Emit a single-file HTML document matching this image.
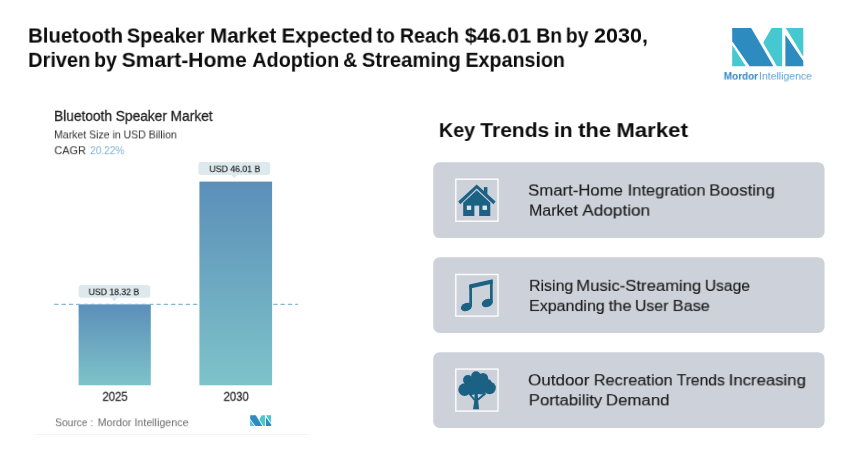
<!DOCTYPE html>
<html>
<head>
<meta charset="utf-8">
<style>
html,body{margin:0;padding:0;}
body{width:860px;height:462px;background:#fff;position:relative;overflow:hidden;font-family:"Liberation Sans",sans-serif;color:#111;}
.abs{position:absolute;}
.t{position:absolute;left:0;top:0;white-space:nowrap;line-height:1;transform-origin:0 0;margin:0;padding:0;will-change:transform;}
</style>
</head>
<body>
<svg class="abs" style="left:0;top:300px" width="320" height="10" viewBox="0 300 320 10"><line x1="54.2" y1="304.4" x2="298" y2="304.4" stroke="#86b9d6" stroke-width="1.1" stroke-dasharray="4.4 2.9"/></svg>
<!-- chart bars -->
<svg class="abs" style="left:0;top:170px" width="320" height="230" viewBox="0 170 320 230">
<defs><linearGradient id="bg" x1="0" y1="0" x2="0" y2="1"><stop offset="0" stop-color="#5b8fb9"/><stop offset="1" stop-color="#7ec3c9"/></linearGradient></defs>
<rect x="78.6" y="304.4" width="72.2" height="80.9" fill="url(#bg)"/>
<rect x="199.4" y="181.6" width="72.7" height="203.7" fill="url(#bg)"/>
<line x1="78.6" y1="304.6" x2="150.8" y2="304.6" stroke="#9cc4dc" stroke-opacity="0.7" stroke-width="1" stroke-dasharray="4.4 2.9" stroke-dashoffset="2.5"/>
</svg>

<!-- cards -->

<svg class="abs" style="left:0;top:0" width="860" height="462" viewBox="0 0 860 462">
<g fill="#cdd2da">
<rect x="433.2" y="162.3" width="391.4" height="75.8" rx="6.5"/>
<rect x="433.2" y="257.2" width="391.4" height="75.7" rx="6.5"/>
<rect x="433.2" y="352.2" width="391.4" height="75.7" rx="6.5"/>
</g>
<g fill="#dde9ec">
<rect x="78.6" y="285" width="71.6" height="12.8" rx="3"/>
<rect x="198.4" y="162" width="71.8" height="13" rx="3"/>
</g>
<!-- main logo -->
<g transform="translate(732.2,27.9)">
<polygon points="0,0 19,0 41.2,38.3 17.4,38.3 0,13.3" fill="#2e8bc0"/>
<polygon points="0,17.1 0,38.3 13.6,38.3" fill="#45c8cf"/>
<polygon points="39.4,0 50,0 50,38.3 44.7,38.3 31,14.8" fill="#45c8cf"/>
<polygon points="53.2,6.8 71.1,33 71.1,38.3 53.2,38.3" fill="#2e8bc0"/>
<polygon points="53.6,0 71.1,0 71.1,28.8" fill="#45c8cf"/>
</g>
<!-- small logo -->
<g transform="translate(250.2,415.3) scale(0.2944,0.279)">
<polygon points="0,0 19,0 41.2,38.3 17.4,38.3 0,13.3" fill="#2e8bc0"/>
<polygon points="0,17.1 0,38.3 13.6,38.3" fill="#45c8cf"/>
<polygon points="39.4,0 50,0 50,38.3 44.7,38.3 31,14.8" fill="#45c8cf"/>
<polygon points="53.2,6.8 71.1,33 71.1,38.3 53.2,38.3" fill="#2e8bc0"/>
<polygon points="53.6,0 71.1,0 71.1,28.8" fill="#45c8cf"/>
</g>
<!-- pill pointers -->
<polygon points="111.2,297.6 117.2,297.6 114.2,301.4" fill="#dde9ec"/>
<polygon points="231.2,174.8 237.2,174.8 234.2,178.3" fill="#dde9ec"/>
<!-- dashed line -->

<!-- bottom faint line -->
<rect x="35" y="434" width="274" height="1" fill="#f5f5f5"/>

<g fill="none" stroke="#fdfdfe" stroke-width="1.4">
<rect x="455.8" y="179.2" width="42.2" height="42"/>
<rect x="455.8" y="274.5" width="42.2" height="41.6"/>
<rect x="455.8" y="369.1" width="42.2" height="42"/>
</g>
<!-- house -->
<g fill="#1b6183">
<polygon points="458.2,201.6 476.7,184.4 495.6,201.6 493.4,204.2 476.7,188.6 460.4,204.2"/>
<rect x="483.9" y="187.1" width="3.5" height="7"/>
<polygon points="463.2,202.8 476.7,190.2 490.3,202.8 490.3,216.1 463.2,216.1"/>
</g>
<rect x="466.8" y="205.6" width="4.4" height="4.3" fill="#dfe4ea"/>
<rect x="482.5" y="205.6" width="4.5" height="4.3" fill="#dfe4ea"/>
<rect x="474.4" y="205.6" width="4.8" height="10.6" fill="#d3d8df"/>

<!-- music -->
<g fill="#1b6183">
<rect x="469.3" y="285" width="2.7" height="21.5"/>
<rect x="490" y="280" width="2.7" height="22.5"/>
<polygon points="469.3,284.5 492.7,279.2 492.7,283.4 469.3,288.7"/>
<ellipse cx="466.4" cy="307" rx="5.7" ry="3.9" transform="rotate(-20 466.4 307)"/>
<ellipse cx="487.3" cy="303" rx="5.7" ry="3.9" transform="rotate(-20 487.3 303)"/>
</g>

<!-- tree -->
<g fill="#1b6183">
<circle cx="476" cy="376.1" r="4.9"/>
<circle cx="467.9" cy="379.9" r="4.9"/>
<circle cx="483" cy="378.2" r="5.2"/>
<circle cx="464.6" cy="389.6" r="6.3"/>
<circle cx="489.6" cy="388" r="6.2"/>
<circle cx="476" cy="385.8" r="8.7"/>
<circle cx="471.6" cy="391" r="4"/>
<circle cx="481.4" cy="390.5" r="4"/>
<circle cx="487.6" cy="383.3" r="4"/>
<polygon points="474.6,393.9 477.7,393.9 478.4,403.1 479.1,409.2 473,409.2 474,403.1"/>
</g>
<g stroke="#1b6183" fill="none">
<line x1="474.6" y1="400" x2="469.3" y2="393.6" stroke-width="1.8"/>
<line x1="477.8" y1="399.8" x2="485.6" y2="393.2" stroke-width="2.1"/>
</g>
</svg>

<style>.t1{font-size:21.5px;font-weight:bold;color:#0c0c0c;}</style>
<div class="t t1" style="transform:translate(28.16px,26.62px) rotate(0.02deg) scale(0.9449,0.9402)">Bluetooth</div>
<div class="t t1" style="transform:translate(126.87px,26.62px) rotate(0.02deg) scale(0.9277,0.9402)">Speaker</div>
<div class="t t1" style="transform:translate(210.15px,26.62px) rotate(0.02deg) scale(0.9529,0.9402)">Market</div>
<div class="t t1" style="transform:translate(281.55px,26.62px) rotate(0.02deg) scale(0.9548,0.9402)">Expected</div>
<div class="t t1" style="transform:translate(376.50px,26.62px) rotate(0.02deg) scale(0.9000,0.9402)">to</div>
<div class="t t1" style="transform:translate(399.89px,26.62px) rotate(0.02deg) scale(0.9143,0.9402)">Reach</div>
<div class="t t1" style="transform:translate(464.80px,26.62px) rotate(0.02deg) scale(1.0077,0.9402)">$46.01</div>
<div class="t t1" style="transform:translate(536.30px,26.62px) rotate(0.02deg) scale(0.9000,0.9402)">Bn</div>
<div class="t t1" style="transform:translate(565.80px,26.62px) rotate(0.02deg) scale(0.9000,0.9402)">by</div>
<div class="t t1" style="transform:translate(594.00px,26.62px) rotate(0.02deg) scale(1.0019,0.9402)">2030,</div>
<style>.t2{font-size:21.5px;font-weight:bold;color:#0c0c0c;}</style>
<div class="t t2" style="transform:translate(28.17px,50.92px) rotate(0.02deg) scale(0.9292,0.9402)">Driven</div>
<div class="t t2" style="transform:translate(94.15px,50.92px) rotate(0.02deg) scale(0.9000,0.9402)">by</div>
<div class="t t2" style="transform:translate(121.72px,50.92px) rotate(0.02deg) scale(0.9778,0.9402)">Smart-Home</div>
<div class="t t2" style="transform:translate(252.30px,50.92px) rotate(0.02deg) scale(0.9215,0.9402)">Adoption</div>
<div class="t t2" style="transform:translate(343.20px,50.92px) rotate(0.02deg) scale(0.9000,0.9402)">&amp;</div>
<div class="t t2" style="transform:translate(361.86px,50.92px) rotate(0.02deg) scale(0.9408,0.9402)">Streaming</div>
<div class="t t2" style="transform:translate(465.49px,50.92px) rotate(0.02deg) scale(0.9150,0.9402)">Expansion</div>
<style>.ctitle{font-size:15px;font-weight:normal;color:#1e1e1e;-webkit-text-stroke:0.3px #1e1e1e;}</style>
<div class="t ctitle" style="transform:translate(54.09px,107.97px) rotate(0.02deg) scale(0.9140,0.9950)">Bluetooth Speaker Market</div>
<style>.csub{font-size:11.5px;font-weight:normal;color:#303030;}</style>
<div class="t csub" style="transform:translate(54.09px,129.45px) rotate(0.02deg) scale(0.9143,0.9947)">Market Size in USD Billion</div>
<style>.cagr{font-size:11.5px;font-weight:normal;color:#303030;}</style>
<div class="t cagr" style="transform:translate(54.40px,145.25px) rotate(0.02deg) scale(0.9455,0.9947)">CAGR</div>
<style>.cagr2{font-size:11.5px;font-weight:normal;color:#79b1d6;}</style>
<div class="t cagr2" style="transform:translate(90.20px,145.25px) rotate(0.02deg) scale(0.8744,0.9947)">20.22%</div>
<style>.p1{font-size:10px;font-weight:normal;color:#2a2a2a;-webkit-text-stroke:0.25px #2a2a2a;}</style>
<div class="t p1" style="transform:translate(88.63px,288.60px) rotate(0.02deg) scale(0.8667,0.8125)">USD 18.32 B</div>
<style>.p2{font-size:10px;font-weight:normal;color:#2a2a2a;-webkit-text-stroke:0.25px #2a2a2a;}</style>
<div class="t p2" style="transform:translate(209.43px,165.60px) rotate(0.02deg) scale(0.8719,0.8125)">USD 46.01 B</div>
<style>.yr{font-size:13px;font-weight:normal;color:#2a2a2a;-webkit-text-stroke:0.3px #2a2a2a;}</style>
<div class="t yr" style="transform:translate(102.50px,389.86px) rotate(0.02deg) scale(0.8655,0.9948)">2025</div>
<div class="t yr" style="transform:translate(223.60px,389.86px) rotate(0.02deg) scale(0.8655,0.9948)">2030</div>
<style>.src{font-size:11.5px;font-weight:normal;color:#6a6a6a;}</style>
<div class="t src" style="transform:translate(55.21px,417.42px) rotate(0.02deg) scale(0.8854,0.9759)">Source :</div>
<div class="t src" style="transform:translate(97.67px,417.42px) rotate(0.02deg) scale(0.9289,0.9759)">Mordor Intelligence</div>
<style>.kt{font-size:20px;font-weight:bold;color:#0c0c0c;}</style>
<div class="t kt" style="transform:translate(438.91px,120.24px) rotate(0.02deg) scale(0.9889,0.9859)">Key</div>
<div class="t kt" style="transform:translate(480.30px,120.24px) rotate(0.02deg) scale(1.0523,0.9859)">Trends</div>
<div class="t kt" style="transform:translate(553.94px,120.24px) rotate(0.02deg) scale(1.0562,0.9859)">in</div>
<div class="t kt" style="transform:translate(578.20px,120.24px) rotate(0.02deg) scale(1.0967,0.9859)">the</div>
<div class="t kt" style="transform:translate(616.39px,120.24px) rotate(0.02deg) scale(1.1095,0.9859)">Market</div>
<style>.c1a{font-size:16px;font-weight:normal;color:#1a1a1a;-webkit-text-stroke:0.15px #1a1a1a;}</style>
<div class="t c1a" style="transform:translate(528.15px,183.46px) rotate(0.02deg) scale(1.0461,0.9335)">Smart-Home</div>
<div class="t c1a" style="transform:translate(627.67px,183.46px) rotate(0.02deg) scale(1.0297,0.9335)">Integration</div>
<div class="t c1a" style="transform:translate(709.25px,183.46px) rotate(0.02deg) scale(1.0533,0.9335)">Boosting</div>
<style>.c1b{font-size:16px;font-weight:normal;color:#1a1a1a;-webkit-text-stroke:0.15px #1a1a1a;}</style>
<div class="t c1b" style="transform:translate(529.10px,203.56px) rotate(0.02deg) scale(0.9958,0.9335)">Market</div>
<div class="t c1b" style="transform:translate(582.40px,203.56px) rotate(0.02deg) scale(1.0726,0.9335)">Adoption</div>
<style>.c2a{font-size:16px;font-weight:normal;color:#1a1a1a;-webkit-text-stroke:0.15px #1a1a1a;}</style>
<div class="t c2a" style="transform:translate(529.11px,278.86px) rotate(0.02deg) scale(0.9930,0.9335)">Rising</div>
<div class="t c2a" style="transform:translate(576.26px,278.86px) rotate(0.02deg) scale(1.0424,0.9335)">Music-Streaming</div>
<div class="t c2a" style="transform:translate(704.82px,278.86px) rotate(0.02deg) scale(0.9778,0.9335)">Usage</div>
<style>.c2b{font-size:16px;font-weight:normal;color:#1a1a1a;-webkit-text-stroke:0.15px #1a1a1a;}</style>
<div class="t c2b" style="transform:translate(529.10px,298.96px) rotate(0.02deg) scale(1.0014,0.9335)">Expanding</div>
<div class="t c2b" style="transform:translate(608.70px,298.96px) rotate(0.02deg) scale(1.0318,0.9335)">the</div>
<div class="t c2b" style="transform:translate(634.91px,298.96px) rotate(0.02deg) scale(0.9909,0.9335)">User</div>
<div class="t c2b" style="transform:translate(672.68px,298.96px) rotate(0.02deg) scale(1.0200,0.9335)">Base</div>
<style>.c3a{font-size:16px;font-weight:normal;color:#1a1a1a;-webkit-text-stroke:0.15px #1a1a1a;}</style>
<div class="t c3a" style="transform:translate(528.14px,373.26px) rotate(0.02deg) scale(1.0614,0.9335)">Outdoor</div>
<div class="t c3a" style="transform:translate(593.78px,373.26px) rotate(0.02deg) scale(1.0197,0.9335)">Recreation</div>
<div class="t c3a" style="transform:translate(676.70px,373.26px) rotate(0.02deg) scale(0.9776,0.9335)">Trends</div>
<div class="t c3a" style="transform:translate(728.65px,373.26px) rotate(0.02deg) scale(1.0458,0.9335)">Increasing</div>
<style>.c3b{font-size:16px;font-weight:normal;color:#1a1a1a;-webkit-text-stroke:0.15px #1a1a1a;}</style>
<div class="t c3b" style="transform:translate(528.76px,393.26px) rotate(0.02deg) scale(1.0449,0.9335)">Portability</div>
<div class="t c3b" style="transform:translate(605.85px,393.26px) rotate(0.02deg) scale(1.0525,0.9335)">Demand</div>
<style>.lg1{font-size:10.5px;font-weight:bold;color:#3487c3;}</style>
<div class="t lg1" style="transform:translate(723.80px,71.16px) rotate(0.02deg) scale(0.9472,0.9375)">Mordor</div>
<style>.lg2{font-size:10.5px;font-weight:normal;color:#6ea9d5;-webkit-text-stroke:0.1px #6ea9d5;}</style>
<div class="t lg2" style="transform:translate(759.00px,71.16px) rotate(0.02deg) scale(0.9962,0.9375)">Intelligence</div>
</body>
</html>
